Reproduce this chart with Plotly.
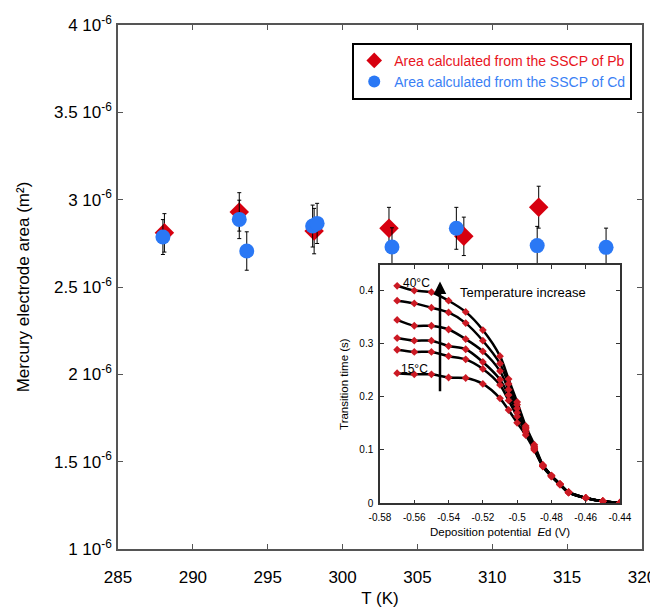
import plotly.graph_objects as go

# ---------------- main chart data ----------------
T_pb = [288.1, 293.1, 298.1, 303.1, 308.1, 313.1]
A_pb = [2.81e-6, 2.93e-6, 2.82e-6, 2.836e-6, 2.79e-6, 2.957e-6]
err_pb = [0.11e-6, 0.11e-6, 0.13e-6, 0.12e-6, 0.11e-6, 0.12e-6]

T_cd = [288.0, 293.1, 293.6, 298.0, 298.3, 303.3, 307.6, 313.0, 317.6]
A_cd = [2.786e-6, 2.887e-6, 2.706e-6, 2.849e-6, 2.864e-6, 2.729e-6, 2.836e-6, 2.737e-6, 2.727e-6]
err_cd = [0.10e-6, 0.11e-6, 0.11e-6, 0.12e-6, 0.115e-6, 0.11e-6, 0.12e-6, 0.11e-6, 0.11e-6]

x_ticks = [285, 290, 295, 300, 305, 310, 315, 320]
y_ticks = [1e-6, 1.5e-6, 2e-6, 2.5e-6, 3e-6, 3.5e-6, 4e-6]
y_ticktext = ["1 10<sup>-6</sup>", "1.5 10<sup>-6</sup>", "2 10<sup>-6</sup>",
              "2.5 10<sup>-6</sup>", "3 10<sup>-6</sup>", "3.5 10<sup>-6</sup>",
              "4 10<sup>-6</sup>"]

# ---------------- inset data ----------------
Ed = [-0.57, -0.56, -0.55, -0.54, -0.53, -0.52, -0.51, -0.505, -0.50,
      -0.495, -0.49, -0.485, -0.48, -0.475, -0.47, -0.46, -0.45, -0.44]
tau_40 = [0.408, 0.399, 0.396, 0.380, 0.359, 0.325, 0.276, 0.233, 0.190,
          0.145, 0.110, 0.072, 0.052, 0.036, 0.021, 0.010, 0.004, 0.001]
tau_35 = [0.380, 0.375, 0.367, 0.358, 0.338, 0.305, 0.262, 0.224, 0.185,
          0.142, 0.107, 0.072, 0.052, 0.036, 0.021, 0.010, 0.004, 0.001]
tau_30 = [0.344, 0.333, 0.333, 0.326, 0.308, 0.285, 0.248, 0.213, 0.178,
          0.140, 0.105, 0.071, 0.052, 0.036, 0.021, 0.010, 0.004, 0.001]
tau_25 = [0.310, 0.305, 0.305, 0.295, 0.289, 0.265, 0.232, 0.203, 0.170,
          0.137, 0.103, 0.070, 0.051, 0.036, 0.021, 0.010, 0.004, 0.001]
tau_20 = [0.288, 0.284, 0.284, 0.276, 0.270, 0.252, 0.222, 0.193, 0.163,
          0.133, 0.102, 0.070, 0.051, 0.035, 0.020, 0.010, 0.004, 0.001]
tau_15 = [0.244, 0.242, 0.242, 0.236, 0.235, 0.224, 0.197, 0.175, 0.151,
          0.128, 0.100, 0.069, 0.050, 0.035, 0.020, 0.010, 0.004, 0.001]
inset_series = [tau_15, tau_20, tau_25, tau_30, tau_35, tau_40]

inset_xticks = [-0.58, -0.56, -0.54, -0.52, -0.5, -0.48, -0.46, -0.44]
inset_xticktext = ["-0.58", "-0.56", "-0.54", "-0.52", "-0.5", "-0.48", "-0.46", "-0.44"]
inset_yticks = [0, 0.1, 0.2, 0.3, 0.4]
inset_yticktext = ["0", "0.1", "0.2", "0.3", "0.4"]

FONT = "Liberation Sans, Arial, sans-serif"
RED = "#d7000f"
BLUE = "#2a78f5"
AX = "#555555"

fig = go.Figure()

# main series
fig.add_trace(go.Scatter(
    x=T_pb, y=A_pb, mode="markers",
    name="<span style='color:#e8141c'>Area calculated from the SSCP of Pb</span>",
    marker=dict(symbol="diamond", size=15, color=RED),
    error_y=dict(type="data", array=err_pb, color="black", thickness=1, width=2),
    xaxis="x", yaxis="y"))
fig.add_trace(go.Scatter(
    x=T_cd, y=A_cd, mode="markers",
    name="<span style='color:#3a7ff5'>Area calculated from the SSCP of Cd</span>",
    marker=dict(symbol="circle", size=15, color=BLUE),
    error_y=dict(type="data", array=err_cd, color="black", thickness=1, width=2),
    xaxis="x", yaxis="y"))

# inset lines
for s in inset_series:
    fig.add_trace(go.Scatter(
        x=Ed, y=s, mode="lines", line=dict(color="black", width=2.5, shape="spline", smoothing=0.8),
        showlegend=False, hoverinfo="skip", xaxis="x2", yaxis="y2"))
# inset points
for s in inset_series:
    fig.add_trace(go.Scatter(
        x=Ed, y=s, mode="markers", marker=dict(symbol="diamond", size=6, color="#cc1a24"),
        showlegend=False, xaxis="x2", yaxis="y2"))

# the page body adds an 8 px margin, so the figure is 8 px smaller than the window
fig.update_layout(
    width=650, height=602,
    margin=dict(l=110, r=16, t=17, b=61, autoexpand=False),
    paper_bgcolor="white", plot_bgcolor="white",
    font=dict(family=FONT, color="black"),
    showlegend=True,
    legend=dict(x=0.447, y=0.966, xanchor="left", yanchor="top",
                bgcolor="white", bordercolor="black", borderwidth=2,
                font=dict(size=14, family=FONT), tracegroupgap=0,
                itemsizing="constant", itemwidth=30),
    xaxis=dict(domain=[0, 1], range=[285, 320], tickvals=x_ticks,
               ticks="inside", ticklen=5, tickcolor=AX, showline=True, linecolor=AX,
               linewidth=1.5, mirror="ticks", showgrid=False, zeroline=False,
               tickfont=dict(size=17), ticklabelstandoff=12, automargin=False,
               title=dict(text="T (K)", font=dict(size=17), standoff=6),
               anchor="y"),
    yaxis=dict(domain=[0, 1], range=[1e-6, 4e-6], tickvals=y_ticks, ticktext=y_ticktext,
               ticks="inside", ticklen=5, tickcolor=AX, showline=True, linecolor=AX,
               linewidth=1.5, mirror="ticks", showgrid=False, zeroline=False,
               tickfont=dict(size=17), ticklabelstandoff=1, automargin=False,
               title=dict(text="Mercury electrode area (m²)", font=dict(size=17), standoff=20),
               anchor="x"),
    xaxis2=dict(domain=[0.5, 0.958], range=[-0.58, -0.44], tickvals=inset_xticks,
                ticktext=inset_xticktext,
                ticks="inside", ticklen=4, tickcolor="#333", showline=True, linecolor="#333",
                linewidth=1.5, mirror="ticks", showgrid=False, zeroline=False,
                tickfont=dict(size=10), ticklabelstandoff=4, automargin=False,
                title=dict(text="Deposition potential  <i>E</i>d (V)", font=dict(size=11.5), standoff=6),
                anchor="y2"),
    yaxis2=dict(domain=[0.0872, 0.542], range=[0, 0.447], tickvals=inset_yticks,
                ticktext=inset_yticktext,
                ticks="inside", ticklen=4, tickcolor="#333", showline=True, linecolor="#333",
                linewidth=1.5, mirror="ticks", showgrid=False, zeroline=False,
                tickfont=dict(size=10), ticklabelstandoff=3, automargin=False,
                title=dict(text="Transition time (s)", font=dict(size=11.5), standoff=8),
                anchor="x2"),
    annotations=[
        dict(xref="x2", yref="y2", axref="x2", ayref="y2",
             x=-0.545, y=0.416, ax=-0.545, ay=0.2075, text="",
             showarrow=True, arrowhead=2, arrowsize=1, arrowwidth=2.5, arrowcolor="black"),
        dict(xref="x2", yref="y2", x=-0.5345, y=0.396, text="Temperature increase",
             showarrow=False, xanchor="left", yanchor="middle", font=dict(size=13)),
        dict(xref="x2", yref="y2", x=-0.5678, y=0.414, text="40°C",
             showarrow=False, xanchor="left", yanchor="middle", font=dict(size=12)),
        dict(xref="x2", yref="y2", x=-0.5688, y=0.252, text="15°C",
             showarrow=False, xanchor="left", yanchor="middle", font=dict(size=12)),
    ],
)

fig.write_html("out.html")
